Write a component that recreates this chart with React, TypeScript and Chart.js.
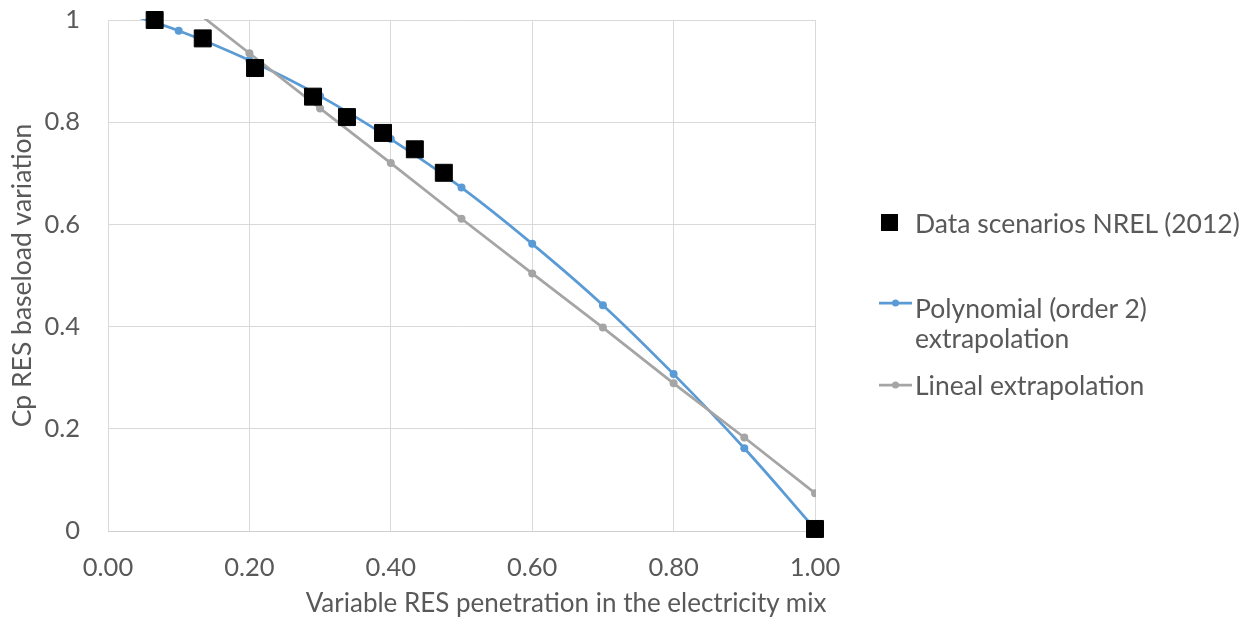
import React, { useEffect, useRef } from "react";
import { Chart, registerables } from "chart.js";

Chart.register(...registerables);

// ---- data ----
const nrelX = [0.066, 0.134, 0.208, 0.29, 0.338, 0.389, 0.434, 0.475, 1.0];
const nrelY = [1.0, 0.964, 0.906, 0.85, 0.81, 0.779, 0.747, 0.701, 0.004];
const extrapX = [0, 0.1, 0.2, 0.3, 0.4, 0.5, 0.6, 0.7, 0.8, 0.9, 1.0];
const polyY = [1.024, 0.979, 0.921, 0.851, 0.767, 0.672, 0.562, 0.442, 0.307, 0.162, 0.004];
const linealY = [1.151, 1.043, 0.935, 0.827, 0.72, 0.611, 0.504, 0.398, 0.289, 0.183, 0.074];

const seriesLabels = [
  "Data scenarios NREL (2012)",
  "Polynomial (order 2) extrapolation",
  "Lineal extrapolation",
];
const xTitle = "Variable RES penetration in the electricity mix";
const yTitle = "Cp RES baseload variation";

const BLUE = "#5B9BD5";
const GRAY = "#A5A5A5";
const TEXT = "#595959";
const GRID = "#D9D9D9";
const FONT_FAMILY = "Lato";
const TICK_SIZE = 25.5;
const TEXT_SIZE = 26.5;
const XTITLE_SIZE = 26;

export default function App() {
  const canvasRef = useRef<HTMLCanvasElement | null>(null);

  useEffect(() => {
    const canvas = canvasRef.current;
    if (!canvas) return;
    const tickFont = { family: FONT_FAMILY, size: TICK_SIZE };
    const titleFont = { family: FONT_FAMILY, size: TEXT_SIZE };
    const chart = new Chart(canvas, {
      type: "line",
      data: {
        datasets: [
          {
            label: seriesLabels[0],
            data: nrelX.map((x, i) => ({ x, y: nrelY[i] })),
            showLine: false,
            pointStyle: "rect",
            pointRadius: 12,
            pointBackgroundColor: "#000000",
            pointBorderColor: "#000000",
            pointBorderWidth: 1,
            clip: false,
            order: 0,
          },
          {
            label: seriesLabels[2],
            data: extrapX.map((x, i) => ({ x, y: linealY[i] })),
            borderColor: GRAY,
            borderWidth: 2.75,
            tension: 0,
            pointRadius: 4,
            pointBorderWidth: 0,
            pointBackgroundColor: GRAY,
            clip: 1,
            order: 1,
          },
          {
            label: seriesLabels[1],
            data: extrapX.map((x, i) => ({ x, y: polyY[i] })),
            borderColor: BLUE,
            borderWidth: 2.75,
            tension: 0.4,
            pointRadius: 4,
            pointBorderWidth: 0,
            pointBackgroundColor: BLUE,
            clip: 1,
            order: 2,
          },
        ],
      },
      options: {
        animation: false,
        responsive: false,
        maintainAspectRatio: false,
        layout: { padding: { top: 20, right: 438, left: 0, bottom: 0 } },
        plugins: { legend: { display: false }, tooltip: { enabled: false } },
        scales: {
          x: {
            type: "linear",
            min: 0,
            max: 1,
            ticks: {
              stepSize: 0.2,
              callback: (v: any) => Number(v).toFixed(2),
              font: tickFont,
              color: TEXT,
              padding: 21,
              maxRotation: 0,
              autoSkip: false,
            },
            grid: { color: GRID, drawTicks: false, lineWidth: 1 },
            border: { color: "#CFCFCF", width: 1 },
            title: { display: false },
            afterFit: (s: any) => {
              s.height = 90;
              s.paddingLeft = 0;
              s.paddingRight = 0;
            },
          },
          y: {
            type: "linear",
            min: 0,
            max: 1,
            ticks: {
              stepSize: 0.2,
              callback: (v: any) => String(Math.round(Number(v) * 10) / 10),
              font: tickFont,
              color: TEXT,
              padding: 28,
            },
            grid: { color: GRID, drawTicks: false, lineWidth: 1 },
            border: { display: false },
            title: {
              display: true,
              text: yTitle,
              font: titleFont,
              color: TEXT,
              padding: { top: 7, bottom: 0 },
            },
            afterFit: (s: any) => {
              s.width = 108;
              s.paddingTop = 0;
              s.paddingBottom = 0;
            },
          },
        },
      },
    } as any);
    return () => chart.destroy();
  }, []);

  const textStyle: React.CSSProperties = {
    position: "absolute",
    left: 915,
    fontFamily: FONT_FAMILY,
    fontSize: TEXT_SIZE,
    lineHeight: "30px",
    color: TEXT,
  };

  return (
    <div
      style={{
        position: "absolute",
        left: 0,
        top: 0,
        width: 1253,
        height: 621,
        background: "#ffffff",
        overflow: "hidden",
      }}
    >
      <canvas ref={canvasRef} width={1253} height={621} style={{ width: 1253, height: 621, display: "block" }} />

      {/* x-axis title */}
      <div
        style={{
          position: "absolute",
          left: 166,
          width: 800,
          top: 586,
          textAlign: "center",
          fontFamily: FONT_FAMILY,
          fontSize: XTITLE_SIZE,
          lineHeight: "32px",
          color: TEXT,
          whiteSpace: "nowrap",
        }}
      >
        {xTitle}
      </div>

      {/* legend */}
      <div style={{ position: "absolute", left: 881, top: 214, width: 17, height: 17, background: "#000" }} />
      <div style={{ ...textStyle, top: 208, whiteSpace: "nowrap" }}>{seriesLabels[0]}</div>

      <svg style={{ position: "absolute", left: 879, top: 297 }} width={33} height={12}>
        <line x1={0} y1={6} x2={33} y2={6} stroke={BLUE} strokeWidth={2.75} />
        <circle cx={16.5} cy={6} r={3.5} fill={BLUE} />
      </svg>
      <div style={{ ...textStyle, top: 293, width: 335 }}>{seriesLabels[1]}</div>

      <svg style={{ position: "absolute", left: 879, top: 379 }} width={33} height={12}>
        <line x1={0} y1={6} x2={33} y2={6} stroke={GRAY} strokeWidth={2.75} />
        <circle cx={16.5} cy={6} r={3.5} fill={GRAY} />
      </svg>
      <div style={{ ...textStyle, top: 370, whiteSpace: "nowrap" }}>{seriesLabels[2]}</div>
    </div>
  );
}
